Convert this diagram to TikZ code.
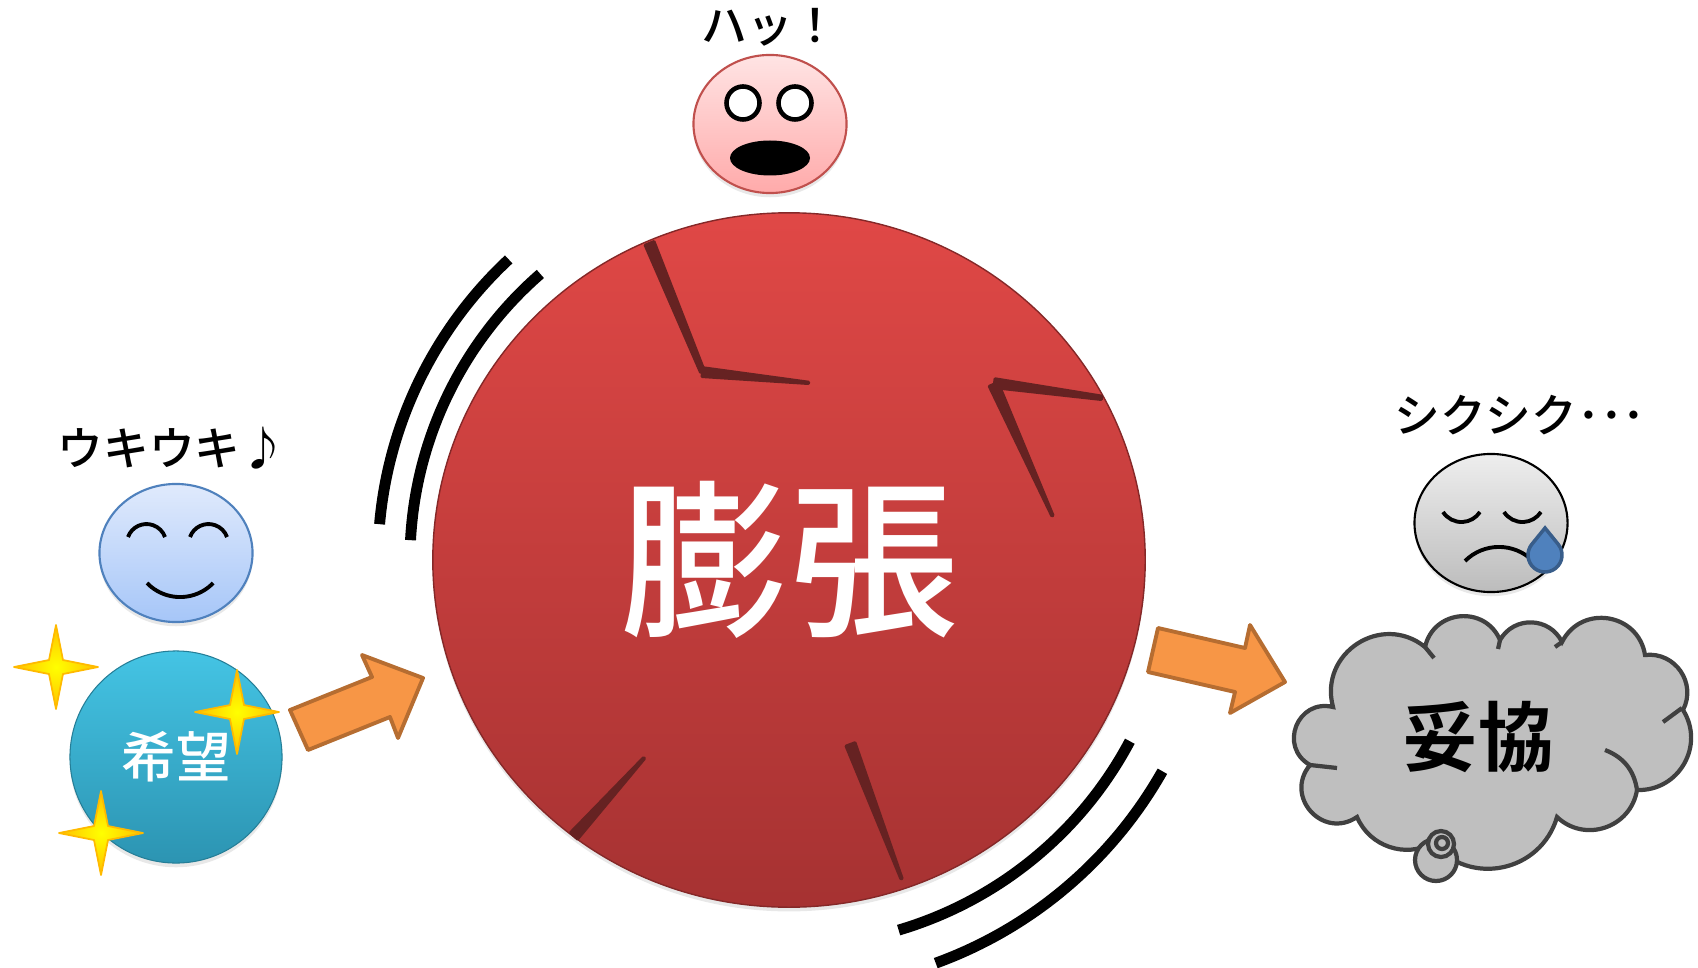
\documentclass[tikz,border=0pt]{standalone}
\usepackage{fontspec}
\newfontfamily\jpfont{Noto Sans CJK JP}[UprightFont=* Medium,BoldFont=* Bold]
\usetikzlibrary{positioning,calc,shapes.geometric,shadows}

\definecolor{ballTop}{RGB}{224,72,70}
\definecolor{ballBot}{RGB}{166,50,50}
\definecolor{crackRed}{RGB}{102,34,34}
\definecolor{hopeTop}{RGB}{68,196,228}
\definecolor{hopeBot}{RGB}{44,148,178}
\definecolor{arrowFill}{RGB}{247,150,70}
\definecolor{arrowLine}{RGB}{182,109,49}
\definecolor{cloudFill}{RGB}{191,191,191}
\definecolor{cloudLine}{RGB}{64,64,64}
\definecolor{sparkGold}{RGB}{255,192,0}
\definecolor{tearBlue}{RGB}{79,129,189}
\definecolor{tearLine}{RGB}{56,93,138}

% tapered crack: wide end #1, thin end #2, half widths #3 and #4
\newcommand\crack[4]{%
  \fill[crackRed,rounded corners=0.4pt]
    ($(#1)!#3!90:(#2)$) -- ($(#2)!#4!-90:(#1)$) -- ($(#2)!#4!90:(#1)$)
    -- ($(#1)!#3!-90:(#2)$) -- cycle;}
% four pointed sparkle around #1
\newcommand\sparkle[1]{%
  \filldraw[spark] ($(#1)+(0,-42)$) -- ++(7,35) -- ++(35,7) -- ++(-35,7) -- ++(-7,35)
    -- ++(-7,-35) -- ++(-35,-7) -- ++(35,-7) -- cycle;}

\begin{document}
\begin{tikzpicture}[
  x=0.01cm, y=-0.01cm,
  softshadow/.style={drop shadow={shadow xshift=0pt,shadow yshift=-1.2pt,opacity=0.18}},
  bigball/.style={ellipse,minimum width=7.12cm,minimum height=6.94cm,inner sep=0pt,
                  top color=ballTop,bottom color=ballBot,draw=ballBot!80!black,line width=0.4pt,
                  softshadow,text=white,font=\jpfont\fontsize{48pt}{48pt}\selectfont},
  hopeball/.style={circle,minimum size=2.12cm,inner sep=0pt,top color=hopeTop,bottom color=hopeBot,
                   draw=hopeBot!85!black,line width=0.3pt,softshadow,
                   text=white,font=\jpfont\fontsize{15.5pt}{16pt}\selectfont},
  face/.style={ellipse,minimum width=1.53cm,minimum height=1.38cm,inner sep=0pt,
               line width=0.6pt,softshadow},
  happy/.style={face,top color={rgb,255:red,224;green,234;blue,252},
                bottom color={rgb,255:red,166;green,198;blue,248},draw={rgb,255:red,79;green,129;blue,189}},
  shock/.style={face,top color={rgb,255:red,255;green,228;blue,228},
                bottom color={rgb,255:red,255;green,170;blue,170},draw={rgb,255:red,192;green,80;blue,77}},
  sorrow/.style={face,top color={rgb,255:red,238;green,238;blue,238},
                 bottom color={rgb,255:red,188;green,188;blue,188},draw=black},
  mood/.style={inner sep=0pt,font=\jpfont\fontsize{13pt}{13pt}\selectfont},
  feature/.style={line width=1.1pt},
  swoosh/.style={line width=3.1pt},
  pointer/.style={fill=arrowFill,draw=arrowLine,line width=1.1pt,line join=round},
  spark/.style={inner color=yellow,outer color=sparkGold,draw=sparkGold!90!orange,
                line width=0.5pt,line join=round},
  cloudbody/.style={fill=cloudFill,draw=cloudLine,line width=1.2pt},
  cloudline/.style={draw=cloudLine,line width=1.2pt},
  puffA/.style={bend left=62,looseness=1.16},
  puffB/.style={bend left=72,looseness=1.3},
  puffC/.style={bend left=82,looseness=1.5},
  puffD/.style={bend left=48,looseness=1.02}
]
  \useasboundingbox (0,0) rectangle (1698,967);

  % the swelling ball
  \node[bigball] (bocho) at (789,560) {膨張};
  \crack{649,242}{703,373}{1.8pt}{1pt}
  \crack{701,372}{810,383}{1.7pt}{0.6pt}
  \crack{993,383}{1103,398}{1.7pt}{0.9pt}
  \crack{993,383}{1053,517}{1.8pt}{0.6pt}
  \crack{573,837}{645,757}{1.8pt}{0.6pt}
  \crack{850,743}{902,880}{1.8pt}{0.6pt}

  \draw[swoosh] (bocho.center) ++(185:411) arc[start angle=185,end angle=227,radius=411];
  \draw[swoosh] (bocho.center) ++(183:379) arc[start angle=183,end angle=229,radius=379];
  \draw[swoosh] (bocho.center) ++(28:386) arc[start angle=28,end angle=73.5,radius=386];
  \draw[swoosh] (bocho.center) ++(29.5:429) arc[start angle=29.5,end angle=70,radius=429];

  % faces
  \node[happy] (niko) at (176,553) {};
  \node[mood] (ukiuki) at (niko.north) [above=1.3mm,xshift=-0.04cm] {ウキウキ♪};
  \draw[feature] (128,537) arc[start angle=-160,end angle=-20,radius=19.7];
  \draw[feature] (190,537) arc[start angle=-160,end angle=-20,radius=19.7];
  \draw[feature] (147,583) arc[start angle=136,end angle=44,radius=46];

  \node[shock] (odoroki) at (770,124) {};
  \node[mood] (hatt) at (odoroki.north) [above=0.7mm] {ハッ！};
  \draw[feature,line width=1.3pt,fill=white] (743,103) circle[radius=16.5];
  \draw[feature,line width=1.3pt,fill=white] (795,103) circle[radius=16.5];
  \fill (770,158) ellipse[x radius=40,y radius=17.5];

  \node[sorrow] (shikushiku) at (1491,523) {};
  \node[mood] (naku) at (shikushiku.north) [above=1.7mm,xshift=0.29cm] {シクシク･･･};
  \draw[feature] (1443,512) arc[start angle=147,end angle=33,radius=22];
  \draw[feature] (1504,512) arc[start angle=147,end angle=33,radius=22];
  \draw[feature] (1465,561) arc[start angle=-135,end angle=-45,radius=48];
  \filldraw[fill=tearBlue,draw=tearLine,line width=1pt]
    (1545,528) -- (1558.2,544.3) arc[start angle=-39,end angle=219,radius=17] -- cycle;

  % hope with sparkles
  \node[hopeball] (kibo) at (176,757) {希望};
  \sparkle{56,667}
  \sparkle{237,712}
  \sparkle{101,833}

  % block arrows
  \filldraw[pointer] (290,710) -- (372,677) -- (362,655) -- (423,678) -- (398,738)
    -- (390,717) -- (308,750) -- cycle;
  \filldraw[pointer] (1158,628) -- (1245,648) -- (1250,625) -- (1285,682) -- (1230,713)
    -- (1235,692) -- (1148,672) -- cycle;

  % thought cloud
  \filldraw[cloudbody] (1310,765) to[puffC] (1333,707) to[puffB] (1425,647) to[puffB] (1500,640)
    to[puffA] (1562,642) to[puffB] (1645,655) to[puffA] (1683,710) to[puffA] (1637,790)
    to[puffA] (1557,817) to[puffA] (1433,843) to[puffD] (1357,817) to[puffC] (1310,765) -- cycle;
  \draw[cloudline] (1310,765) -- (1337,768);
  \draw[cloudline] (1605,750) to[bend left=30] (1637,790);
  \draw[cloudline] (1663,722) -- (1682,708);
  \draw[cloudline] (1425,647) -- (1434,658);
  \draw[cloudline] (1500,640) -- (1498,649);
  \draw[cloudline] (1562,642) -- (1555,647);
  \filldraw[cloudbody] (1436,860) circle[radius=21];
  \filldraw[cloudbody] (1441,844) circle[radius=13];
  \filldraw[cloudbody] (1442,843) circle[radius=6];
  \node[font=\jpfont\bfseries\fontsize{21.5pt}{22pt}\selectfont,inner sep=0pt] (dakyo) at (1478,737) {妥協};
\end{tikzpicture}
\end{document}
